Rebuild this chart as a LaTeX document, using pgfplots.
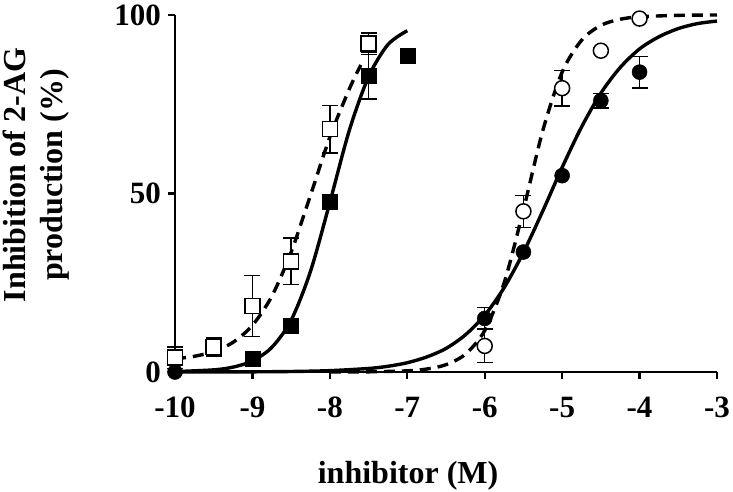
\documentclass[border=0pt]{standalone}
\usepackage{fontspec}
\setmainfont{Liberation Serif}
\usepackage{pgfplots}
\pgfplotsset{compat=1.18}
\begin{document}
\begin{tikzpicture}
\begin{axis}[
  scale only axis, width=542pt, height=357pt,
  xmin=-10, xmax=-3, ymin=0, ymax=100,
  axis lines*=left, tick pos=left,
  axis line style={line width=2.8pt, black},
  major tick style={line width=2.4pt, black},
  tick align=outside, major tick length=7pt,
  xtick={-10,-9,-8,-7,-6,-5,-4,-3},
  xticklabels={-10,-9,-8,-7,-6,-5,-4,-3},
  ytick={0,50,100}, yticklabels={0,50,100},
  tick label style={font=\fontsize{31}{31}\selectfont\bfseries, inner sep=0pt},
  xticklabel style={yshift=-18pt},
  yticklabel style={xshift=-7pt},
  xlabel={inhibitor (M)},
  xlabel style={at={(rel axis cs:0.43,0)}, anchor=base, yshift=-111pt, font=\fontsize{32}{32}\selectfont\bfseries},
  ylabel={Inhibition of 2-AG\\production (\%)},
  ylabel style={at={(rel axis cs:0,0.552)}, anchor=center, yshift=139pt, align=center, font=\fontsize{32}{37}\selectfont\bfseries},
  clip=false,
]
\coordinate (O) at (rel axis cs:0,0);
\coordinate (T) at (rel axis cs:1,1);
% fitted curves
\addplot[black, line width=3.4pt, smooth] coordinates {
(-10,0.11) (-9.5,0.6) (-9.25,1.37) (-9,3.1) (-8.75,6.9) (-8.5,14.5) (-8.25,28.2) (-8,47.5) (-7.75,67.6) (-7.5,82.7) (-7.25,91.7) (-7,95.6)};
\addplot[black, line width=3.4pt, smooth, dash pattern=on 11pt off 7pt] coordinates {
(-10,3.7) (-9.75,4.4) (-9.5,5.74) (-9.25,8.33) (-9,13.07) (-8.75,21.2) (-8.5,33.6) (-8.25,49.5) (-8,65.8) (-7.75,79.2) (-7.6,86)};
\addplot[black, line width=3.4pt, smooth] coordinates {
(-10,0) (-9.5,0.02) (-9,0.05) (-8.5,0.14) (-8,0.38) (-7.5,0.99) (-7.25,1.6) (-7,2.6) (-6.75,4.2) (-6.5,6.6) (-6.25,10.4) (-6,15.9) (-5.75,23.6) (-5.5,33.5) (-5.25,45.1) (-5,57.3) (-4.75,68.6) (-4.5,78.1) (-4.25,85.3) (-4,90.5) (-3.75,93.9) (-3.5,96.2) (-3.25,97.6) (-3,98.3)};
\addplot[black, line width=3.4pt, smooth, dash pattern=on 11pt off 7pt] coordinates {
(-8,0.01) (-7.5,0.05) (-7,0.33) (-6.75,0.83) (-6.5,2.05) (-6.25,4.99) (-6,11.6) (-5.75,24.9) (-5.5,45.4) (-5.25,67.6) (-5,84.0) (-4.75,92.9) (-4.5,97.1) (-4.25,98.8) (-4,99.5) (-3.5,99.9) (-3,100)};
% error bars
\addplot[only marks, mark=none, error bars/.cd, y dir=both, y explicit,
  error bar style={black, solid, line width=1.5pt},
  error mark options={black, solid, rotate=90, mark size=8pt, line width=1.5pt}]
  table[x=x, y=y, y error=e] {
x y e
-10 4 3
-9.5 7 2.5
-9 18.5 8.5
-8.5 31 6.5
-8 68 6.6
-7.5 92 3
-8.5 13 1.5
-7.5 83 6.5
-6 15 3
-4.5 76 2
-4 84 4.4
-6 7.3 4.6
-5.5 45 4.5
-5 79.5 5
};
% markers
\addplot[only marks, mark=square*, mark size=7.5pt, mark options={fill=white, draw=black, line width=1.5pt}] coordinates {
(-10,4) (-9.5,7) (-9,18.5) (-8.5,31) (-8,68) (-7.5,92)};
\addplot[only marks, mark=square*, mark size=7.5pt, mark options={fill=black, draw=black, line width=0.5pt}] coordinates {
(-9,3.6) (-8.5,13) (-8,47.6) (-7.5,83) (-7,88.5)};
\addplot[only marks, mark=*, mark size=7.5pt, mark options={fill=white, draw=black, line width=1.5pt}] coordinates {
(-6,7.3) (-5.5,45) (-5,79.5) (-4.5,90) (-4,99)};
\addplot[only marks, mark=*, mark size=7.5pt, mark options={fill=black, draw=black, line width=0.5pt}] coordinates {
(-10,0) (-6,15) (-5.5,33.6) (-5,55) (-4.5,76) (-4,84)};
\end{axis}
\pgfresetboundingbox
\path ([shift={(-175pt,-120pt)}]O) rectangle ([shift={(16pt,15pt)}]T);
\end{tikzpicture}
\end{document}
